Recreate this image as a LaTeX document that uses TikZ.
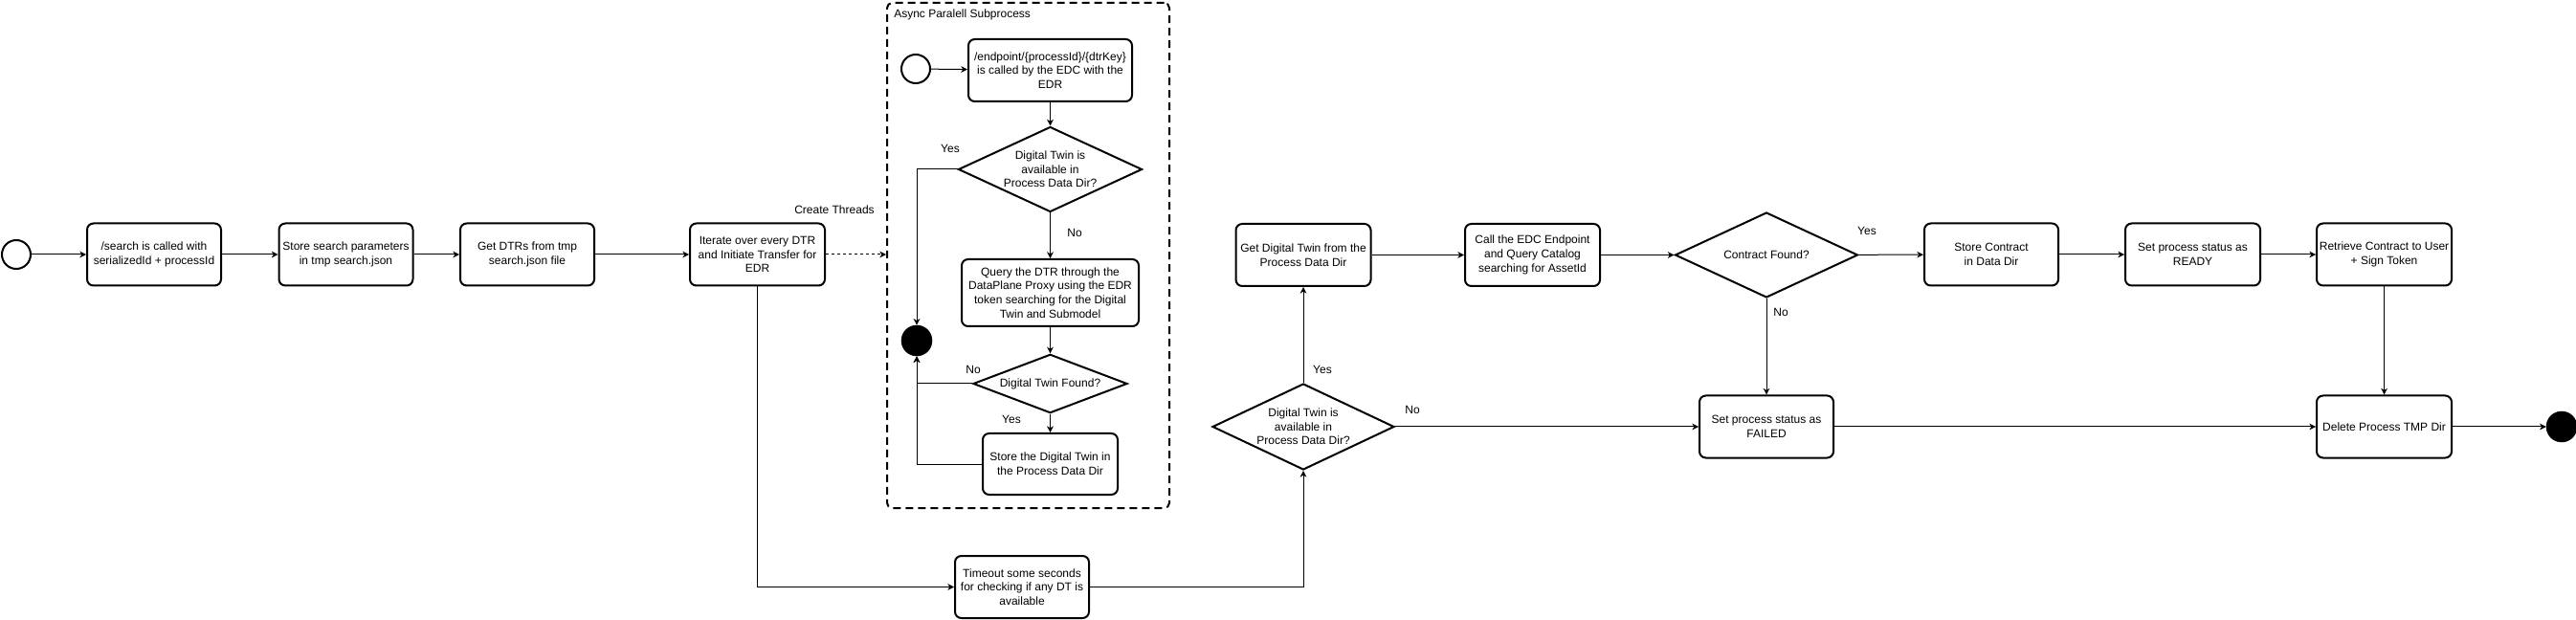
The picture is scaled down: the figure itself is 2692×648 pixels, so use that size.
\documentclass[tikz,border=0pt]{standalone}
\usepackage{fontspec}
\setmainfont{Liberation Sans}
\usetikzlibrary{arrows.meta,positioning,shapes.geometric}

\begin{document}
\begin{tikzpicture}[
  x=0.75pt, y=-0.75pt,
  every node/.style={align=center, font=\fontsize{9}{11}\selectfont},
  box/.style={draw, line width=1.5pt, rounded corners=5pt, minimum width=105pt, minimum height=48.75pt, inner sep=1pt},
  cond/.style={draw, diamond, line width=1.5pt, inner sep=0pt, aspect=2.1},
  startnode/.style={draw, circle, line width=1.5pt, minimum size=22.5pt, inner sep=0pt},
  endnode/.style={draw, circle, fill=black, minimum size=24pt, inner sep=0pt},
  arr/.style={draw, line width=0.75pt, -{Stealth[length=5pt,width=5pt,inset=1.5pt]}},
  lbl/.style={inner sep=0pt}
]
\useasboundingbox (0,0) rectangle (2692,648);

% async subprocess container
\node[draw, dash pattern=on 6pt off 3.75pt, line width=1.5pt, rounded corners=4pt,
      minimum width=221.25pt, minimum height=396pt] (async) at (1074.5,267) {};
\node[lbl, anchor=west] (asynctitle) at (934,15) {Async Paralell Subprocess};

% main flow
\node[startnode] (start) at (17,266) {};
\node[box] (search) at (161,266) {/search is called with\\serializedId + processId};
\node[box] (store) at (361.5,266) {Store search parameters\\in tmp search.json};
\node[box] (getdtr) at (551,266) {Get DTRs from tmp\\search.json file};
\node[box, minimum width=105.75pt] (iterate) at (791.5,266) {Iterate over every DTR\\and Initiate Transfer for\\EDR};

% inside the subprocess
\node[startnode] (substart) at (957,72) {};
\node[box, minimum width=128.25pt] (edr) at (1097.5,73.5) {/endpoint/\{processId\}/\{dtrKey\}\\is called by the EDC with the\\EDR};
\node[cond, minimum width=144pt, minimum height=66.75pt] (avail1) at (1097.5,177) {Digital Twin is\\available in\\Process Data Dir?};
\node[box, minimum width=138.75pt, minimum height=52.5pt] (query) at (1097.5,306) {Query the DTR through the\\DataPlane Proxy using the EDR\\token searching for the Digital\\Twin and Submodel};
\node[endnode] (join) at (958,356) {};
\node[cond, minimum width=120.75pt, minimum height=45pt] (found) at (1097.5,401) {Digital Twin Found?};
\node[box, minimum width=105.75pt, minimum height=48pt] (storedt) at (1097.5,485) {Store the Digital Twin in\\the Process Data Dir};

% after the threads
\node[box] (timeout) at (1068,613.5) {Timeout some seconds\\for checking if any DT is\\available};
\node[cond, minimum width=142.5pt, minimum height=67.5pt] (avail2) at (1362,446) {Digital Twin is\\available in\\Process Data Dir?};
\node[box, minimum width=105.75pt] (getdt) at (1362,266.5) {Get Digital Twin from the\\Process Data Dir};
\node[box, minimum width=105.75pt] (calledc) at (1601.5,266.5) {Call the EDC Endpoint\\and Query Catalog\\searching for AssetId};
\node[cond, minimum width=143.25pt, minimum height=66.75pt] (contract) at (1846,266.5) {Contract Found?};
\node[box] (storec) at (2081,266) {Store Contract\\in Data Dir};
\node[box, minimum width=105.75pt] (ready) at (2291.5,266) {Set process status as\\READY};
\node[box, minimum width=105.75pt] (retrieve) at (2491.5,266) {Retrieve Contract to User\\+ Sign Token};
\node[box] (failed) at (1846,446) {Set process status as\\FAILED};
\node[box, minimum width=105.75pt] (delete) at (2491.5,446) {Delete Process TMP Dir};
\node[endnode] (finish) at (2677,446) {};

% labels
\node[lbl] (lthreads) at (872,219) {Create Threads};
\node[lbl] (lyes1) at (993,155) {Yes};
\node[lbl] (lno1) at (1123,243) {No};
\node[lbl] (lno2) at (1017,386) {No};
\node[lbl] (lyes2) at (1057,438) {Yes};
\node[lbl] (lyes3) at (1382,386) {Yes};
\node[lbl] (lno3) at (1476,428) {No};
\node[lbl] (lyes4) at (1951,241) {Yes};
\node[lbl] (lno4) at (1861,326) {No};

% connectors
\draw[arr] (start) -- (search);
\draw[arr] (search) -- (store);
\draw[arr] (store) -- (getdtr);
\draw[arr] (getdtr) -- (iterate);
\draw[arr, dash pattern=on 2.25pt off 2.25pt] (iterate) -- (iterate -| async.west);
\draw[arr] (substart) -- (edr);
\draw[arr] (edr) -- (avail1);
\draw[arr] (avail1.west) -| (join.north);
\draw[arr] (avail1) -- (query);
\draw[arr] (query) -- (found);
\draw[arr] (found.west) -| (join.south);
\draw[arr] (storedt.west) -| (join.south);
\draw[arr] (found) -- (storedt);
\draw[arr] (iterate.south) |- (timeout.west);
\draw[arr] (timeout.east) -| (avail2.south);
\draw[arr] (avail2) -- (getdt);
\draw[arr] (avail2) -- (failed);
\draw[arr] (getdt) -- (calledc);
\draw[arr] (calledc) -- (contract);
\draw[arr] (contract) -- (storec);
\draw[arr] (contract) -- (failed);
\draw[arr] (storec) -- (ready);
\draw[arr] (ready) -- (retrieve);
\draw[arr] (retrieve) -- (delete);
\draw[arr] (failed) -- (delete);
\draw[arr] (delete) -- (finish);
\end{tikzpicture}
\end{document}
